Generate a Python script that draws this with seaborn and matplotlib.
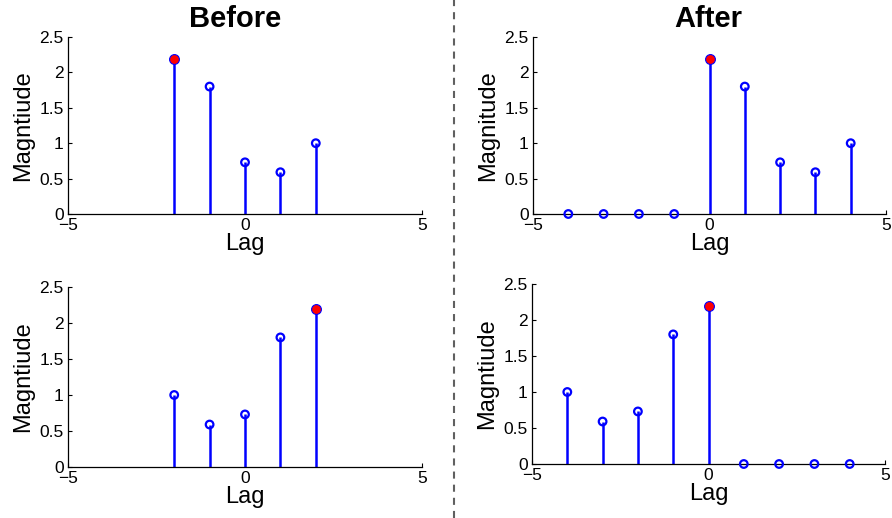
import numpy as np
import pandas as pd
import matplotlib
matplotlib.use("Agg")
import matplotlib.pyplot as plt
from matplotlib.lines import Line2D
import seaborn as sns

# ---- data ----
lags_before = [-2, -1, 0, 1, 2]
mag_before_top = [2.19, 1.80, 0.73, 0.59, 1.00]
mag_before_bottom = [1.00, 0.59, 0.73, 1.80, 2.19]
lags_after = [-4, -3, -2, -1, 0, 1, 2, 3, 4]
mag_after_top = [0, 0, 0, 0, 2.19, 1.80, 0.73, 0.59, 1.00]
mag_after_bottom = [1.00, 0.59, 0.73, 1.80, 2.19, 0, 0, 0, 0]
x_ticks = [-5, 0, 5]
y_ticks = [0, 0.5, 1, 1.5, 2, 2.5]
y_tick_labels = ["0", "0.5", "1", "1.5", "2", "2.5"]
titles = ["Before", "After"]
ylabels = ["Magntiude", "Magnitude", "Magntiude", "Magntiude"]
xlabel = "Lag"

sns.set_theme(style="ticks")
plt.rcParams["font.family"] = ["Liberation Sans", "DejaVu Sans"]
plt.rcParams["text.color"] = "black"
plt.rcParams["axes.labelcolor"] = "black"

fig = plt.figure(figsize=(8.92, 5.18), dpi=100)
W, H = 892, 518

def axpos(l, r, t, b):
    return [l / W, 1 - b / H, (r - l) / W, (b - t) / H]

positions = [
    axpos(68, 422, 37, 214),
    axpos(533, 886, 37, 214),
    axpos(68, 422, 287, 467),
    axpos(532, 885, 284, 464),
]
datasets = [
    (lags_before, mag_before_top),
    (lags_after, mag_after_top),
    (lags_before, mag_before_bottom),
    (lags_after, mag_after_bottom),
]

blue = "#0000ff"
red = "#ff0000"

for i, (pos, (lx, my)) in enumerate(zip(positions, datasets)):
    ax = fig.add_axes(pos)
    df = pd.DataFrame({"lag": lx, "mag": my})
    peak = int(np.argmax(my))
    df["peak"] = [j == peak for j in range(len(my))]
    ax.vlines(df["lag"], 0, df["mag"], color=blue, lw=1.8, zorder=2)
    sns.scatterplot(data=df[~df["peak"]], x="lag", y="mag", ax=ax, marker="o",
                    s=30, fc="none", ec=blue, linewidth=1.6, zorder=4,
                    clip_on=False, legend=False)
    sns.scatterplot(data=df[df["peak"]], x="lag", y="mag", ax=ax, marker="o",
                    s=50, fc=red, ec=blue, linewidth=0.8, zorder=5,
                    clip_on=False, legend=False)
    ax.set_xlim(-5, 5)
    ax.set_ylim(0, 2.5)
    ax.set_xticks(x_ticks)
    ax.set_xticklabels([str(v).replace("-", "\u2212") for v in x_ticks])
    ax.set_yticks(y_ticks)
    ax.set_yticklabels(y_tick_labels)
    ax.tick_params(direction="in", length=3, width=0.8, labelsize=12.5,
                   colors="black", pad=3)
    sns.despine(ax=ax)
    for s in ["left", "bottom"]:
        ax.spines[s].set_linewidth(0.9)
        ax.spines[s].set_color("black")
    ax.set_xlabel(xlabel, fontsize=17, labelpad=0, color="black")
    ax.set_ylabel(ylabels[i], fontsize=17, labelpad=4, color="black")
    ax.patch.set_alpha(0)

fig.text(235 / W, 1 - 19 / H, titles[0], ha="center", va="center",
         fontsize=21, fontweight="bold", color="black")
fig.text(708 / W, 1 - 19 / H, titles[1], ha="center", va="center",
         fontsize=21, fontweight="bold", color="black")

fig.add_artist(Line2D([454 / W, 454 / W], [0, 1], transform=fig.transFigure,
                      color="#606060", lw=1.5, ls=(0, (3.4, 2.9))))

fig.savefig("out.png", dpi=100)
